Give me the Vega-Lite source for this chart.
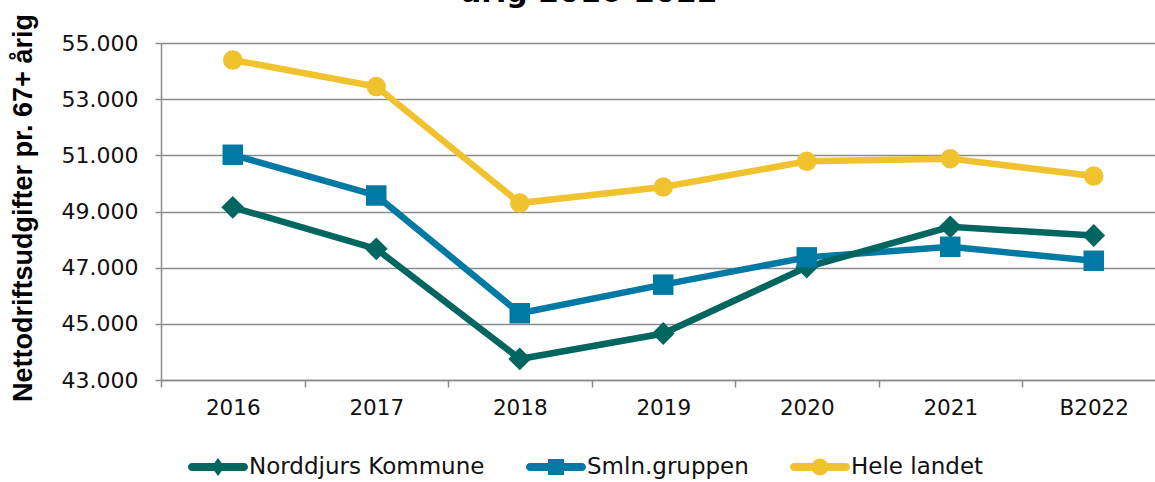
{
  "$schema": "https://vega.github.io/schema/vega-lite/v6.json",
  "autosize": "none",
  "padding": {"left": 161, "top": 43, "right": 0, "bottom": 102},
  "width": 994,
  "height": 337,
  "background": "white",
  "title": {
    "text": "årig 2016-2022",
    "font": "DejaVu Sans",
    "fontSize": 30,
    "fontWeight": "bold",
    "color": "#000000",
    "anchor": "start",
    "frame": "group",
    "dx": 300,
    "baseline": "alphabetic",
    "offset": -18
  },
  "data": {
    "values": [
      {"year": "2016", "serie": "Hele landet", "value": 54395},
      {"year": "2017", "serie": "Hele landet", "value": 53450},
      {"year": "2018", "serie": "Hele landet", "value": 49300},
      {"year": "2019", "serie": "Hele landet", "value": 49871},
      {"year": "2020", "serie": "Hele landet", "value": 50786},
      {"year": "2021", "serie": "Hele landet", "value": 50882},
      {"year": "B2022", "serie": "Hele landet", "value": 50263},
      {"year": "2016", "serie": "Smln.gruppen", "value": 51020},
      {"year": "2017", "serie": "Smln.gruppen", "value": 49570},
      {"year": "2018", "serie": "Smln.gruppen", "value": 45377},
      {"year": "2019", "serie": "Smln.gruppen", "value": 46395},
      {"year": "2020", "serie": "Smln.gruppen", "value": 47367},
      {"year": "2021", "serie": "Smln.gruppen", "value": 47743},
      {"year": "B2022", "serie": "Smln.gruppen", "value": 47245},
      {"year": "2016", "serie": "Norddjurs Kommune", "value": 49150},
      {"year": "2017", "serie": "Norddjurs Kommune", "value": 47670},
      {"year": "2018", "serie": "Norddjurs Kommune", "value": 43750},
      {"year": "2019", "serie": "Norddjurs Kommune", "value": 44655},
      {"year": "2020", "serie": "Norddjurs Kommune", "value": 47020},
      {"year": "2021", "serie": "Norddjurs Kommune", "value": 48455},
      {"year": "B2022", "serie": "Norddjurs Kommune", "value": 48146}
    ]
  },
  "encoding": {
    "x": {
      "field": "year",
      "type": "ordinal",
      "sort": ["2016", "2017", "2018", "2019", "2020", "2021", "B2022"],
      "scale": {"type": "band", "range": [0, 1004.5], "paddingInner": 0, "paddingOuter": 0},
      "axis": {
        "title": null,
        "tickBand": "extent",
        "labelAngle": 0,
        "labelFont": "DejaVu Sans",
        "labelFontSize": 21.5,
        "labelColor": "#111111",
        "labelPadding": 10,
        "tickSize": 7,
        "tickColor": "#8c8c8c",
        "tickWidth": 1.5,
        "domainColor": "#8c8c8c",
        "domainWidth": 1.5,
        "grid": false
      }
    },
    "y": {
      "field": "value",
      "type": "quantitative",
      "scale": {"domain": [43000, 55000], "nice": false, "zero": false},
      "axis": {
        "values": [43000, 45000, 47000, 49000, 51000, 53000, 55000],
        "labelExpr": "replace(format(datum.value, ','), ',', '.')",
        "title": "Nettodriftsudgifter pr. 67+ årig",
        "titleFont": "Liberation Sans",
        "titleFontSize": 27,
        "titleFontWeight": "bold",
        "titleColor": "#000000",
        "titlePadding": 24,
        "titleY": 164.5,
        "labelFont": "DejaVu Sans",
        "labelFontSize": 22,
        "labelColor": "#111111",
        "labelPadding": 17,
        "tickSize": 6,
        "tickColor": "#8c8c8c",
        "tickWidth": 1.5,
        "domainColor": "#8c8c8c",
        "domainWidth": 1.5,
        "grid": true,
        "gridColor": "#8c8c8c",
        "gridWidth": 1.5
      }
    }
  },
  "layer": [
    {
      "transform": [{"filter": "datum.serie === 'Hele landet'"}],
      "mark": {"type": "line", "strokeWidth": 6.5, "color": "#F0C32E"}
    },
    {
      "transform": [{"filter": "datum.serie === 'Smln.gruppen'"}],
      "mark": {"type": "line", "strokeWidth": 6.5, "color": "#0079A4"}
    },
    {
      "transform": [{"filter": "datum.serie === 'Norddjurs Kommune'"}],
      "mark": {"type": "line", "strokeWidth": 6.5, "color": "#00665F"}
    },
    {
      "transform": [{"filter": "datum.serie === 'Norddjurs Kommune'"}],
      "mark": {"type": "point", "shape": "diamond", "filled": true, "opacity": 1, "size": 520, "color": "#00665F"}
    },
    {
      "transform": [{"filter": "datum.serie === 'Smln.gruppen'"}],
      "mark": {"type": "point", "shape": "square", "filled": true, "opacity": 1, "size": 420, "color": "#0079A4"}
    },
    {
      "transform": [{"filter": "datum.serie === 'Hele landet'"}],
      "mark": {"type": "point", "shape": "circle", "filled": true, "opacity": 1, "size": 380, "color": "#F0C32E"}
    },
    {
      "mark": {"type": "point", "filled": true, "opacity": 0, "size": 10},
      "encoding": {
        "color": {
          "field": "serie",
          "type": "nominal",
          "scale": {
            "domain": ["Norddjurs Kommune", "Smln.gruppen", "Hele landet"],
            "range": ["#00665F", "#0079A4", "#F0C32E"]
          },
          "legend": {
            "title": null,
            "orient": "none",
            "legendX": 27,
            "legendY": 394,
            "direction": "horizontal",
            "symbolSize": 3600,
            "symbolOpacity": 1,
            "symbolStrokeWidth": 0,
            "labelFont": "DejaVu Sans",
            "labelFontSize": 23,
            "labelLimit": 400,
            "labelColor": "#111111",
            "labelOffset": 1,
            "columnPadding": 41,
            "padding": 0
          }
        },
        "shape": {
          "field": "serie",
          "type": "nominal",
          "scale": {
            "domain": ["Norddjurs Kommune", "Smln.gruppen", "Hele landet"],
            "range": [
              "M-0.867,-0.133H0.867A0.133,0.133 0 0,1 0.867,0.133H-0.867A0.133,0.133 0 0,1 -0.867,-0.133Z M0,-0.3L0.217,0L0,0.3L-0.217,0Z",
              "M-0.867,-0.133H0.867A0.133,0.133 0 0,1 0.867,0.133H-0.867A0.133,0.133 0 0,1 -0.867,-0.133Z M-0.267,-0.267H0.267V0.267H-0.267Z",
              "M-0.867,-0.133H0.867A0.133,0.133 0 0,1 0.867,0.133H-0.867A0.133,0.133 0 0,1 -0.867,-0.133Z M-0.283,0A0.283,0.283 0 1,1 0.283,0A0.283,0.283 0 1,1 -0.283,0Z"
            ]
          },
          "legend": {
            "title": null,
            "orient": "none",
            "legendX": 27,
            "legendY": 394,
            "direction": "horizontal",
            "symbolSize": 3600,
            "symbolOpacity": 1,
            "symbolStrokeWidth": 0,
            "labelFont": "DejaVu Sans",
            "labelFontSize": 23,
            "labelLimit": 400,
            "labelColor": "#111111",
            "labelOffset": 1,
            "columnPadding": 41,
            "padding": 0
          }
        }
      }
    }
  ],
  "config": {
    "view": {"stroke": null}
  }
}
